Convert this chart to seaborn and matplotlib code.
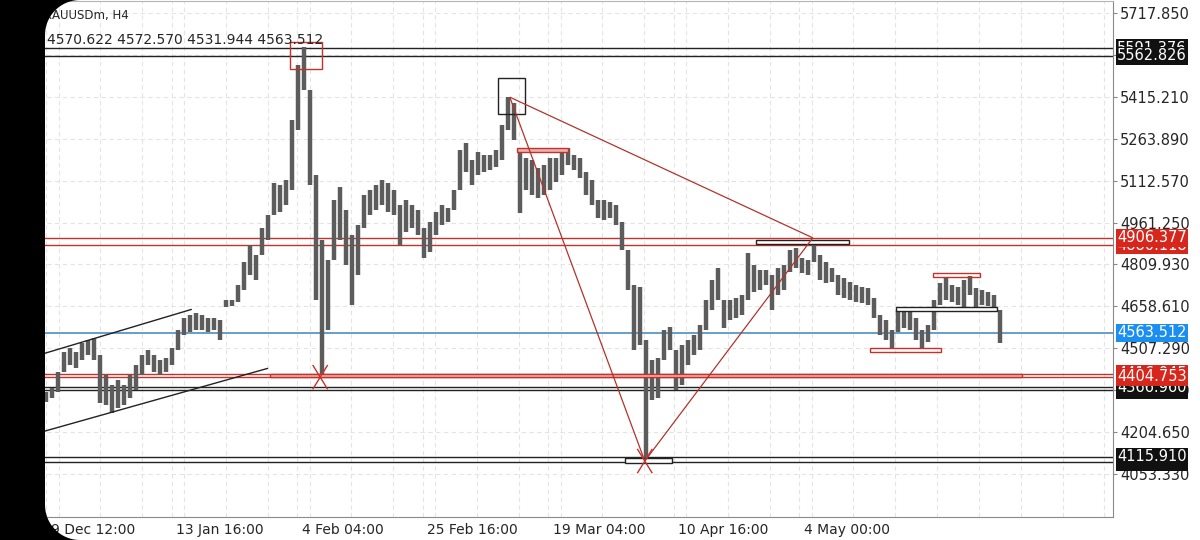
import numpy as np
import pandas as pd
import seaborn as sns
import matplotlib.pyplot as plt
from matplotlib.patches import Rectangle, Polygon
from matplotlib.transforms import ScaledTranslation

# XAUUSDm H4, one bar per screen column group
bar_high = [
    4349, 4363, 4421, 4493, 4508, 4493, 4526, 4537, 4544, 4482,
    4410, 4374, 4392, 4374, 4410, 4446, 4482, 4500, 4482, 4464,
    4472, 4508, 4573, 4616, 4627, 4634, 4627, 4616, 4616, 4609,
    4681, 4681, 4735, 4818, 4880, 4844, 4941, 4988, 5104, 5096,
    5115, 5331, 5530, 5595, 5440, 5133, 4898, 4826, 5042, 5089,
    5006, 4916, 4952, 5060, 5078, 5096, 5115, 5104, 5078, 5024,
    5042, 5024, 5006, 4941, 4963, 4999, 5024, 5013, 5078, 5223,
    5248, 5187, 5216, 5205, 5205, 5223, 5313, 5414, 5393, 5223,
    5194, 5187, 5158, 5169, 5194, 5194, 5223, 5230, 5205, 5194,
    5143, 5115, 5042, 5042, 5035, 5024, 4963, 4862, 4735, 4728,
    4537, 4464, 4472, 4573, 4584, 4500, 4519, 4537, 4555, 4591,
    4681, 4753, 4797, 4681, 4681, 4688, 4699, 4851, 4808, 4790,
    4790, 4771, 4797, 4808, 4862, 4869, 4833, 4826, 4887, 4844,
    4818, 4797, 4771, 4761, 4746, 4735, 4728, 4724, 4688, 4627,
    4609, 4573, 4645, 4645, 4638, 4616, 4573, 4591, 4681, 4743,
    4761, 4735, 4728, 4753, 4768, 4724, 4717, 4710, 4699, 4645,
]
bar_low = [
    4313, 4327, 4349, 4421, 4446, 4435, 4464, 4482, 4464, 4309,
    4302, 4273, 4291, 4302, 4327, 4356, 4410, 4446, 4421, 4410,
    4421, 4446, 4500, 4555, 4565, 4573, 4573, 4565, 4573, 4537,
    4656, 4659, 4674, 4717, 4771, 4753, 4844, 4898, 4988, 4999,
    5024, 5078, 5295, 5440, 5096, 4681, 4403, 4573, 4826, 4898,
    4808, 4663, 4771, 4941, 4988, 5006, 5024, 4999, 4988, 4880,
    4927, 4941, 4916, 4833, 4854, 4916, 4952, 4963, 5006, 5078,
    5143, 5096, 5133, 5143, 5151, 5161, 5187, 5295, 5259, 4995,
    5078, 5060, 5050, 5060, 5078, 5107, 5133, 5169, 5151, 5122,
    5060, 5024, 4977, 4970, 4977, 4952, 4862, 4717, 4500, 4519,
    4100, 4320, 4327, 4464, 4500, 4356, 4374, 4446, 4482, 4500,
    4573, 4645, 4681, 4580, 4609, 4616, 4627, 4681, 4710, 4717,
    4735, 4645, 4699, 4717, 4782, 4797, 4779, 4771, 4818, 4753,
    4743, 4746, 4699, 4688, 4681, 4674, 4670, 4663, 4616, 4555,
    4537, 4508, 4565, 4580, 4573, 4537, 4508, 4529, 4573, 4663,
    4681, 4674, 4663, 4645, 4699, 4645, 4663, 4659, 4645, 4526,
]

header_symbol = "XAUUSDm, H4"
header_ohlc = [4570.622, 4572.570, 4531.944, 4563.512]

x_labels = ["9 Dec 12:00", "13 Jan 16:00", "4 Feb 04:00", "25 Feb 16:00",
            "19 Mar 04:00", "10 Apr 16:00", "4 May 00:00"]
price_ticks = [4053.330, 4204.650, 4355.970, 4507.290, 4658.610, 4809.930,
               4961.250, 5112.570, 5263.890, 5415.210, 5566.530, 5717.850]

black_levels = [5591.376, 5562.826, 4366.960, 4355.520, 4115.910, 4097.285]
red_levels = [4906.377, 4880.118, 4416.045, 4404.753]
blue_level = 4563.512
# price tags on the right scale, drawn in this order (later ones on top)
tag_prices = [5591.376, 5562.826, 4880.118, 4906.377, 4563.512,
              4355.520, 4366.960, 4416.045, 4404.753, 4097.285, 4115.910]
tag_kinds = ["k", "k", "r", "r", "b", "k", "k", "r", "r", "k", "k"]

# drawn objects: rectangles (bar from, bar to, price low, price high, kind)
rect_x0 = [40.7, 75.3, 78.5, 118.3, 137.3, 141.7, 147.8, 96.5, 37.3]
rect_x1 = [46.0, 79.8, 87.0, 133.8, 149.2, 158.5, 155.7, 104.3, 162.7]
rect_p0 = [5515, 5353, 5216, 4883, 4493, 4641, 4764, 4092, 4404]
rect_p1 = [5613, 5483, 5230, 4898, 4508, 4656, 4779, 4110, 4416]
rect_kind = ["red_open", "black_open", "red_fill", "black_open", "red_open",
             "black_open", "red_open", "black_open", "red_fill"]

# channel and swing lines (bar, price)
channel_upper = [(-2.7, 4473), (24.3, 4648)]
channel_lower = [(-2.7, 4193), (37.0, 4435)]
swing_top = (77.3, 5414)
swing_mid = (127.8, 4906)
swing_low = (99.8, 4100)
cross_marks = [(45.7, 4403), (99.8, 4100)]

BAR_GRAY = "#5c5c5c"
RED = "#c5322a"
TAG_COLORS = {"k": "#111111", "r": "#d7261b", "b": "#1b8ef2"}

W, H = 1200, 540
PX_PER_BAR = 6.0
FIRST_BAR_PX = 46.0
AX_RIGHT_PX = 1113.0
AX_TOP_PX, AX_BOTTOM_PX = 1.0, 517.0

sns.set_style("white")
plt.rcParams["font.family"] = ["DejaVu Sans"]
plt.rcParams["lines.solid_capstyle"] = "butt"

fig = plt.figure(figsize=(W / 100, H / 100), dpi=100)
ax = fig.add_axes([0, (H - AX_BOTTOM_PX) / H, AX_RIGHT_PX / W,
                   (AX_BOTTOM_PX - AX_TOP_PX) / H])

n = len(bar_high)
bars = pd.DataFrame({
    "bar": np.repeat(np.arange(n), 2),
    "price": np.column_stack([bar_low, bar_high]).ravel(),
})
sns.lineplot(data=bars, x="bar", y="price", units="bar", estimator=None,
             sort=False, color=BAR_GRAY, lw=3.2, ax=ax, legend=False, zorder=3)

for p in black_levels:
    ax.axhline(p, color="#222222", lw=1.0, zorder=2)
for p in red_levels:
    ax.axhline(p, color=RED, lw=1.0, zorder=2)
ax.axhline(blue_level, color="#5a97c7", lw=1.3, zorder=2)

for x0, x1, p0, p1, kind in zip(rect_x0, rect_x1, rect_p0, rect_p1, rect_kind):
    edge = RED if kind.startswith("red") else "#222222"
    face = "#e8b4b0" if kind == "red_fill" else "none"
    if kind == "black_open" and p1 - p0 < 40:
        face = "white"
    ax.add_patch(Rectangle((x0, p0), x1 - x0, p1 - p0, facecolor=face,
                           edgecolor=edge, lw=1.0, zorder=4))

for line in (channel_upper, channel_lower):
    xs, ys = zip(*line)
    ax.plot(xs, ys, color="#222222", lw=1.0, zorder=4)

ax.plot([swing_top[0], swing_mid[0]], [swing_top[1], swing_mid[1]], color="#b0352b", lw=0.9, zorder=5)
ax.plot([swing_top[0], swing_low[0], swing_mid[0]],
        [swing_top[1], swing_low[1], swing_mid[1]], color="#b0352b", lw=0.9, zorder=5)
for cx, cp in cross_marks:
    dx, dp = 1.25, 44
    ax.plot([cx - dx, cx + dx], [cp + dp, cp - dp], color=RED, lw=1.0, zorder=5)
    ax.plot([cx - dx, cx + dx], [cp - dp, cp + dp], color=RED, lw=1.0, zorder=5)

label_step = 125.5 / PX_PER_BAR
xt = 0.08 + label_step * np.arange(len(x_labels))
ax.set_xticks(xt, x_labels)
ax.set_xticks(np.arange(-0.9 * label_step, 9 * label_step, label_step / 3), minor=True)
ax.tick_params(axis="x", which="major", length=3, color="#888888", pad=1, labelsize=10)
ax.tick_params(axis="x", which="minor", length=0)
off = ScaledTranslation(3 / 72, 0, fig.dpi_scale_trans)
for t in ax.get_xticklabels():
    t.set_ha("left")
    t.set_transform(t.get_transform() + off)

ax.yaxis.tick_right()
ax.set_yticks(price_ticks, [f"{p:.3f}" for p in price_ticks])
ax.tick_params(axis="y", length=3, color="#888888", pad=2, labelsize=10.5)
ax.set_xlabel("")
ax.set_ylabel("")

# axes limits from screen geometry (set after the ticks so they stick)
ppx = (5717.850 - 4053.330) / (474.0 - 13.0)
ax.set_xlim((0 - FIRST_BAR_PX) / PX_PER_BAR, (AX_RIGHT_PX - FIRST_BAR_PX) / PX_PER_BAR)
ax.set_ylim(5717.850 - (AX_BOTTOM_PX - 13.0) * ppx, 5717.850 + (13.0 - AX_TOP_PX) * ppx)

ax.grid(True, which="both", axis="x", color="#e4e4e4", ls=(0, (4, 3)), lw=0.8)
ax.grid(True, which="major", axis="y", color="#e4e4e4", ls=(0, (4, 3)), lw=0.8)
ax.set_axisbelow(True)
ax.spines["left"].set_visible(False)
ax.spines["right"].set_color("#8a8a8a")
ax.spines["bottom"].set_color("#8a8a8a")
ax.spines["top"].set_color("#b5b5b5")

ytr = ax.get_yaxis_transform()
for p, k in zip(tag_prices, tag_kinds):
    ax.text(1.0 + 4 / AX_RIGHT_PX, p, f"{p:.3f}", transform=ytr, ha="left", va="center",
            color="white", fontsize=10.5, clip_on=False, zorder=10,
            bbox=dict(boxstyle="square,pad=0.1", fc=TAG_COLORS[k], ec="none"))

fig.text(44 / W, 1 - 15 / H, header_symbol, fontsize=8.5, va="center", ha="left")
fig.text(47 / W, 1 - 40 / H, " ".join(f"{v:.3f}" for v in header_ohlc),
         fontsize=10, va="center", ha="left")

# black phone-screen border with rounded corners on the left
def arc(cx, cy, r, a0, a1):
    a = np.radians(np.linspace(a0, a1, 24))
    return list(zip(cx + r * np.cos(a), cy + r * np.sin(a)))

pts = [(0, 0)] + arc(80, 35, 35, -90, -180) + arc(80, 505, 35, 180, 90) + [(0, H)]
mask = Polygon([(x / W, 1 - y / H) for x, y in pts], closed=True, fc="black",
               ec="none", transform=fig.transFigure, zorder=20)
fig.add_artist(mask)

fig.savefig("out.png", dpi=100, facecolor="white")
